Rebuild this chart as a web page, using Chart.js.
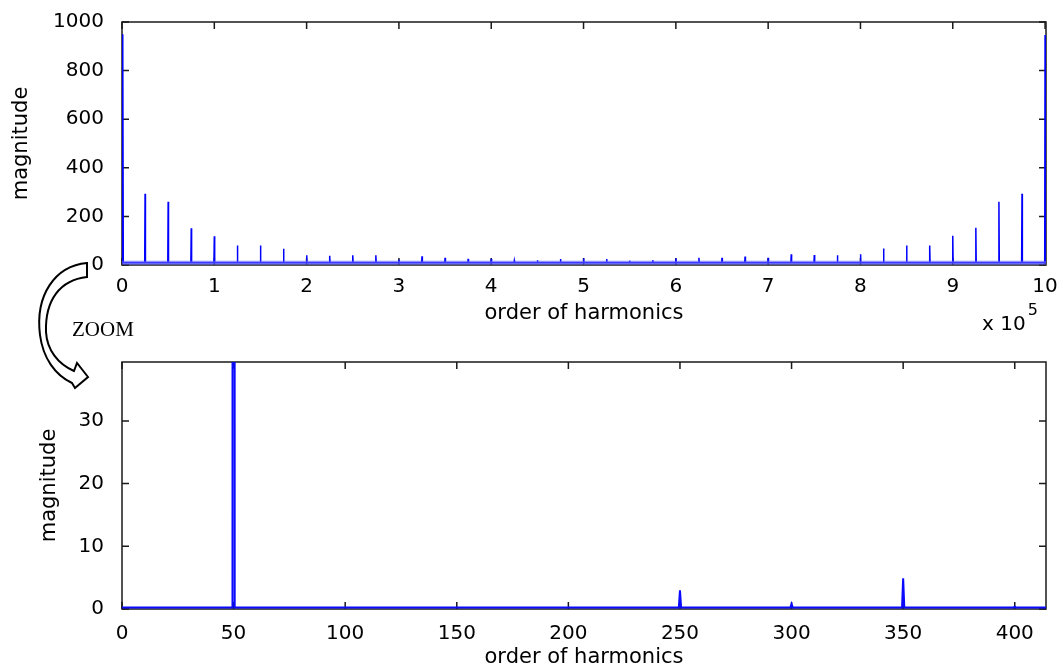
<!DOCTYPE html>
<html>
<head>
<meta charset="utf-8">
<script src="https://cdn.jsdelivr.net/npm/chart.js@4.4.0/dist/chart.umd.min.js"></script>
<style>
  html, body { margin: 0; padding: 0; background: #fff; overflow: hidden; }
  #wrap { position: relative; width: 1063px; height: 667px; }
  canvas { position: absolute; left: 0; }
  #topChart { top: 0; }
  #bottomChart { top: 340px; }
  #arrow { position: absolute; left: 0; top: 0; pointer-events: none; }
  #zoomLabel { position: absolute; left: 72px; top: 319px; font: 21px/21px "Liberation Serif", serif; color: #000; }
  #expLabel { position: absolute; left: 982px; top: 313px; font: 20px/20px "DejaVu Sans", sans-serif; color: #000; white-space: nowrap; }
  #expLabel span { font-size: 16px; position: relative; top: -15px; margin-left: 2px; }
</style>
</head>
<body>
<div id="wrap">
  <canvas id="topChart" width="1063" height="340"></canvas>
  <canvas id="bottomChart" width="1063" height="340"></canvas>
  <svg id="arrow" width="1063" height="667">
    <path d="M 87 263 C 55 266, 35 295, 40 335 C 43 358, 55 375, 72 383 L 75 388 L 88 377 L 77 363 L 74 371 C 58 364, 47 350, 46 332 C 45 300, 60 280, 87 277 Z"
          fill="#fff" stroke="#000" stroke-width="2" stroke-linejoin="miter"/>
  </svg>
  <div id="zoomLabel">ZOOM</div>
  <div id="expLabel">x 10<span>5</span></div>
</div>
<script>
// full spectrum, x in units of 10^5
const fullOrder = [0.01, 0.25, 0.5, 0.75, 1.0, 1.25, 1.5, 1.75, 2.0, 2.25, 2.5, 2.75, 3.0, 3.25, 3.5, 3.75, 4.0,
                   4.25, 4.5, 4.75, 5.0, 5.25, 5.5, 5.75, 6.0, 6.25, 6.5, 6.75, 7.0, 7.25, 7.5, 7.75, 8.0,
                   8.25, 8.5, 8.75, 9.0, 9.25, 9.5, 9.75, 10.0];
const fullMag = [950, 293, 260, 151, 118, 80, 80, 67, 40, 38, 40, 40, 22, 36, 30, 25, 25,
                 18, 20, 25, 28, 25, 18, 20, 28, 30, 30, 35, 30, 44, 41, 40, 44,
                 68, 80, 80, 120, 153, 260, 293, 947];
const fullFloor = 9;
const fullMax = 10.01;

// zoomed part, harmonics 0..414
const zoomOrder = [50, 250, 300, 350, 400];
const zoomMag = [950, 3.0, 0.8, 4.9, 0.4];
const zoomFloor = 0.25;
const zoomMax = 414;

function spikes(pos, mag, floor, w, xMax) {
    const pts = [{ x: 0, y: floor }];
    for (let i = 0; i < pos.length; i++) {
        pts.push({ x: pos[i] - w, y: floor });
        pts.push({ x: pos[i], y: mag[i] });
        pts.push({ x: pos[i] + w, y: floor });
    }
    pts.push({ x: xMax, y: floor });
    return pts;
}

// matlab style box with inward ticks
const frame = {
    id: 'frame',
    beforeDatasetsDraw(chart) {
        const { ctx, chartArea: a, scales } = chart;
        ctx.save();
        ctx.strokeStyle = '#1a1a1a';
        ctx.lineWidth = 1.5;
        ctx.strokeRect(a.left, a.top, a.right - a.left, a.bottom - a.top);
        ctx.beginPath();
        scales.x.ticks.forEach(t => {
            const px = scales.x.getPixelForValue(t.value);
            ctx.moveTo(px, a.bottom); ctx.lineTo(px, a.bottom - 7);
            ctx.moveTo(px, a.top); ctx.lineTo(px, a.top + 7);
        });
        scales.y.ticks.forEach(t => {
            const py = scales.y.getPixelForValue(t.value);
            ctx.moveTo(a.left, py); ctx.lineTo(a.left + 7, py);
            ctx.moveTo(a.right, py); ctx.lineTo(a.right - 7, py);
        });
        ctx.stroke();
        ctx.restore();
    }
};

const tickFont = { family: 'DejaVu Sans', size: 20 };
const titleFont = { family: 'DejaVu Sans', size: 21 };

function makeChart(id, datasets, x, y, pad) {
    return new Chart(document.getElementById(id), {
        type: 'line',
        data: { datasets: datasets },
        options: {
            responsive: false,
            animation: false,
            events: [],
            layout: { padding: { left: 0, right: 17, top: pad.top, bottom: 0 } },
            elements: { point: { radius: 0 }, line: { tension: 0 } },
            plugins: { legend: { display: false }, tooltip: { enabled: false } },
            scales: {
                x: {
                    type: 'linear',
                    min: 0,
                    max: x.max,
                    grid: { display: false },
                    border: { display: false },
                    ticks: {
                        stepSize: x.step, includeBounds: false, maxRotation: 0,
                        autoSkip: false, color: '#000', font: tickFont, padding: pad.xTick,
                        callback: v => String(v)
                    },
                    title: {
                        display: true, text: 'order of harmonics', color: '#000',
                        font: titleFont, padding: { top: 0, bottom: pad.xTitle }
                    },
                    afterFit: s => { s.height = pad.xHeight; }
                },
                y: {
                    min: 0,
                    max: y.max,
                    grid: { display: false },
                    border: { display: false },
                    ticks: {
                        stepSize: y.step, includeBounds: false,
                        color: '#000', font: tickFont, padding: 10,
                        callback: v => String(v)
                    },
                    title: {
                        display: true, text: 'magnitude', color: '#000',
                        font: titleFont, padding: { top: pad.yTitle, bottom: 0 }
                    },
                    afterFit: s => { s.width = 122; }
                }
            }
        },
        plugins: [frame]
    });
}

makeChart('topChart', [
    {
        data: [{ x: 0, y: fullFloor }, { x: fullMax, y: fullFloor }],
        borderColor: 'rgba(90,90,255,0.65)',
        borderWidth: 4
    },
    {
        data: spikes(fullOrder, fullMag, fullFloor, 0.004, fullMax),
        borderColor: '#0000ff',
        borderWidth: 1.5
    }
], { max: fullMax, step: 1 }, { max: 1000, step: 200 },
   { top: 15, xTick: 2, xTitle: 14, xHeight: 75, yTitle: 9 });

makeChart('bottomChart', [
    {
        data: spikes(zoomOrder, zoomMag, zoomFloor, 0.5, zoomMax),
        borderColor: '#0a0aff',
        borderWidth: 2
    }
], { max: zoomMax, step: 50 }, { max: 39.4, step: 10 },
   { top: 16, xTick: 5, xTitle: 10, xHeight: 71, yTitle: 37 });
</script>
</body>
</html>
